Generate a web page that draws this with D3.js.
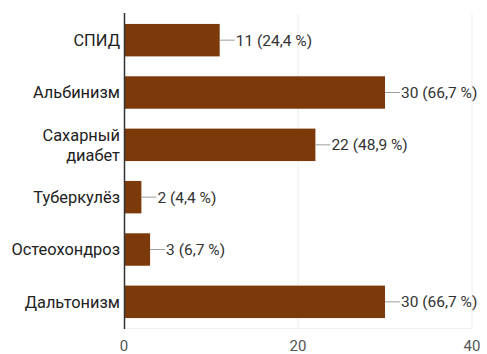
<!DOCTYPE html>
<html>
<head>
<meta charset="utf-8">
<script src="https://cdn.jsdelivr.net/npm/d3@7"></script>
<style>
  html, body { margin: 0; padding: 0; background: #fff; }
  svg { display: block; font-family: Roboto, "Noto Sans", sans-serif; }
</style>
</head>
<body>
<svg id="chart" width="487" height="354"></svg>
<script>
// Responses per disease
const categories = ["СПИД", "Альбинизм", "Сахарный диабет", "Туберкулёз", "Остеохондроз", "Дальтонизм"];
const counts = [11, 30, 22, 2, 3, 30];
const percents = ["24,4", "66,7", "48,9", "4,4", "6,7", "66,7"];
const xTicks = [0, 20, 40];

const svg = d3.select("#chart");
const margin = { top: 14, right: 15, bottom: 26, left: 124 };
const width = 487, height = 354;

const x = d3.scaleLinear().domain([0, 40]).range([margin.left, width - margin.right]);
const y = d3.scaleBand().domain(categories)
  .range([margin.top, height - margin.bottom])
  .paddingInner(0.38).paddingOuter(0.19);

// Vertical gridlines
svg.append("g").selectAll("line").data(xTicks.slice(1)).join("line")
  .attr("x1", d => x(d)).attr("x2", d => x(d))
  .attr("y1", margin.top).attr("y2", height - margin.bottom)
  .attr("stroke", "#ebebeb").attr("stroke-width", 1);
svg.append("line")
  .attr("x1", margin.left).attr("x2", x(40))
  .attr("y1", height - margin.bottom + 0.5).attr("y2", height - margin.bottom + 0.5)
  .attr("stroke", "#f0f0f0");

// Bars
svg.append("g").selectAll("rect").data(categories).join("rect")
  .attr("x", x(0))
  .attr("y", d => y(d))
  .attr("width", (d, i) => x(counts[i]) - x(0))
  .attr("height", y.bandwidth())
  .attr("fill", "#7c3a0a");

// Value labels with leader lines
const lbl = svg.append("g").selectAll("g").data(categories).join("g")
  .attr("transform", (d, i) => `translate(${x(counts[i])},${y(d) + y.bandwidth() / 2})`);
lbl.append("line").attr("x1", 0).attr("x2", 15).attr("y1", 0).attr("y2", 0)
  .attr("stroke", "#9e9e9e").attr("stroke-width", 1);
lbl.append("text").attr("x", 16).attr("dy", "0.35em")
  .attr("font-size", 15.5).attr("fill", "#333")
  .text((d, i) => `${counts[i]} (${percents[i]} %)`);

// Category labels
const catSize = 16.4;
const cat = svg.append("g").selectAll("text").data(categories).join("text")
  .attr("x", margin.left - 4)
  .attr("y", d => y(d) + y.bandwidth() / 2)
  .attr("text-anchor", "end")
  .attr("font-size", catSize).attr("fill", "#222");
cat.each(function(d) {
  const words = d.split(" ");
  const t = d3.select(this);
  const lh = 20;
  const off = -(words.length - 1) * lh / 2;
  words.forEach((w, k) => {
    t.append("tspan").attr("x", margin.left - 4)
      .attr("dy", k === 0 ? (off / catSize + 0.35) + "em" : lh + "px")
      .text(w);
  });
});

// Axis line
svg.append("line")
  .attr("x1", margin.left + 0.5).attr("x2", margin.left + 0.5)
  .attr("y1", margin.top - 1).attr("y2", height - margin.bottom + 1)
  .attr("stroke", "#333").attr("stroke-width", 1.5);

// Tick labels
svg.append("g").selectAll("text").data(xTicks).join("text")
  .attr("x", d => x(d)).attr("y", height - 3)
  .attr("text-anchor", "middle")
  .attr("font-size", 15).attr("fill", "#555")
  .text(d => d);
</script>
</body>
</html>
